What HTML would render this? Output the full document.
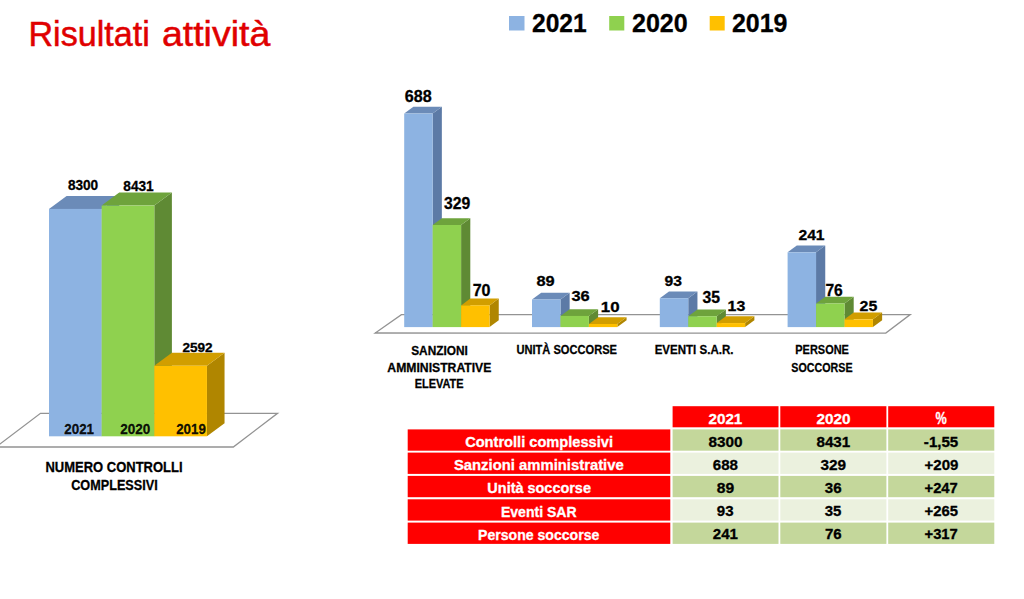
<!DOCTYPE html>
<html><head><meta charset="utf-8"><style>
html,body{margin:0;padding:0;background:#fff;width:1024px;height:599px;overflow:hidden}
svg{display:block}
text{font-family:"Liberation Sans",sans-serif;}
</style></head><body>
<svg width="1024" height="599" viewBox="0 0 1024 599">
<rect width="1024" height="599" fill="#fff"/>
<text x="28.45" y="45.80" font-size="35.07" font-weight="400" fill="#e00000" textLength="121.30" lengthAdjust="spacingAndGlyphs" stroke="#e00000" stroke-width="0.5">Risultati</text>
<text x="161.96" y="45.80" font-size="35.07" font-weight="400" fill="#e00000" textLength="108.29" lengthAdjust="spacingAndGlyphs" stroke="#e00000" stroke-width="0.5">attività</text>
<rect x="509.0" y="16.0" width="15.5" height="14.5" fill="#8db3e2"/>
<text x="532.00" y="31.60" font-size="25.52" font-weight="700" fill="#000" textLength="54.74" lengthAdjust="spacingAndGlyphs" stroke="#000" stroke-width="0.3">2021</text>
<rect x="609.2" y="16.0" width="15.1" height="14.5" fill="#8fd14f"/>
<text x="631.98" y="31.60" font-size="25.52" font-weight="700" fill="#000" textLength="55.69" lengthAdjust="spacingAndGlyphs" stroke="#000" stroke-width="0.3">2020</text>
<rect x="709.7" y="16.0" width="15.0" height="14.5" fill="#ffc000"/>
<text x="731.99" y="31.60" font-size="25.52" font-weight="700" fill="#000" textLength="55.49" lengthAdjust="spacingAndGlyphs" stroke="#000" stroke-width="0.3">2019</text>
<polygon points="40.5,413.3 277.5,413.3 233.3,447.0 -4,447.0" fill="#fff" stroke="#939393" stroke-width="1.3"/>
<polygon points="101.65,208.90 119.25,195.90 119.25,423.30 101.65,436.30" fill="#5c7aa6"/>
<polygon points="49.00,208.90 66.60,195.90 119.25,195.90 101.65,208.90" fill="#6b8bb8"/>
<rect x="49.00" y="208.90" width="52.65" height="227.40" fill="#8db3e2"/>
<polygon points="154.30,205.60 171.90,192.60 171.90,423.30 154.30,436.30" fill="#5f8a34"/>
<polygon points="101.65,205.60 119.25,192.60 171.90,192.60 154.30,205.60" fill="#6ea33c"/>
<rect x="101.65" y="205.60" width="52.65" height="230.70" fill="#8fd14f"/>
<polygon points="206.95,365.80 224.55,352.80 224.55,423.30 206.95,436.30" fill="#b08600"/>
<polygon points="154.30,365.80 171.90,352.80 224.55,352.80 206.95,365.80" fill="#d19e00"/>
<rect x="154.30" y="365.80" width="52.65" height="70.50" fill="#ffc000"/>
<text x="67.92" y="189.80" font-size="13.88" font-weight="700" fill="#000" textLength="30.29" lengthAdjust="spacingAndGlyphs" stroke="#000" stroke-width="0.3">8300</text>
<text x="123.32" y="191.40" font-size="14.33" font-weight="700" fill="#000" textLength="30.41" lengthAdjust="spacingAndGlyphs" stroke="#000" stroke-width="0.3">8431</text>
<text x="182.48" y="351.70" font-size="13.28" font-weight="700" fill="#000" textLength="30.21" lengthAdjust="spacingAndGlyphs" stroke="#000" stroke-width="0.3">2592</text>
<text x="64.29" y="434.30" font-size="14.78" font-weight="700" fill="rgba(0,0,0,0.93)" textLength="29.74" lengthAdjust="spacingAndGlyphs" stroke="rgba(0,0,0,0.93)" stroke-width="0.3">2021</text>
<text x="120.18" y="434.30" font-size="14.78" font-weight="700" fill="rgba(0,0,0,0.93)" textLength="30.02" lengthAdjust="spacingAndGlyphs" stroke="rgba(0,0,0,0.93)" stroke-width="0.3">2020</text>
<text x="176.19" y="434.30" font-size="14.78" font-weight="700" fill="rgba(0,0,0,0.93)" textLength="29.66" lengthAdjust="spacingAndGlyphs" stroke="rgba(0,0,0,0.93)" stroke-width="0.3">2019</text>
<text x="45.48" y="472.10" font-size="14.78" font-weight="700" fill="#000" textLength="137.04" lengthAdjust="spacingAndGlyphs" stroke="#000" stroke-width="0.3">NUMERO CONTROLLI</text>
<text x="71.23" y="490.40" font-size="15.52" font-weight="700" fill="#000" textLength="86.47" lengthAdjust="spacingAndGlyphs" stroke="#000" stroke-width="0.3">COMPLESSIVI</text>
<polygon points="401.4,314.6 910.2,314.6 885.8,333.1 375.2,333.0" fill="#fff" stroke="#939393" stroke-width="1.3"/>
<polygon points="432.65,113.61 441.85,106.81 441.85,320.30 432.65,327.10" fill="#5c7aa6"/>
<polygon points="404.20,113.61 413.40,106.81 441.85,106.81 432.65,113.61" fill="#6b8bb8"/>
<rect x="404.20" y="113.61" width="28.45" height="213.49" fill="#8db3e2"/>
<polygon points="461.10,225.01 470.30,218.21 470.30,320.30 461.10,327.10" fill="#5f8a34"/>
<polygon points="432.65,225.01 441.85,218.21 470.30,218.21 461.10,225.01" fill="#6ea33c"/>
<rect x="432.65" y="225.01" width="28.45" height="102.09" fill="#8fd14f"/>
<polygon points="489.55,305.38 498.75,298.58 498.75,320.30 489.55,327.10" fill="#b08600"/>
<polygon points="461.10,305.38 470.30,298.58 498.75,298.58 489.55,305.38" fill="#d19e00"/>
<rect x="461.10" y="305.38" width="28.45" height="21.72" fill="#ffc000"/>
<polygon points="560.45,299.48 569.65,292.68 569.65,320.30 560.45,327.10" fill="#5c7aa6"/>
<polygon points="532.00,299.48 541.20,292.68 569.65,292.68 560.45,299.48" fill="#6b8bb8"/>
<rect x="532.00" y="299.48" width="28.45" height="27.62" fill="#8db3e2"/>
<polygon points="588.90,315.93 598.10,309.13 598.10,320.30 588.90,327.10" fill="#5f8a34"/>
<polygon points="560.45,315.93 569.65,309.13 598.10,309.13 588.90,315.93" fill="#6ea33c"/>
<rect x="560.45" y="315.93" width="28.45" height="11.17" fill="#8fd14f"/>
<polygon points="617.35,324.00 626.55,317.20 626.55,320.30 617.35,327.10" fill="#b08600"/>
<polygon points="588.90,324.00 598.10,317.20 626.55,317.20 617.35,324.00" fill="#d19e00"/>
<rect x="588.90" y="324.00" width="28.45" height="3.10" fill="#ffc000"/>
<polygon points="688.25,298.24 697.45,291.44 697.45,320.30 688.25,327.10" fill="#5c7aa6"/>
<polygon points="659.80,298.24 669.00,291.44 697.45,291.44 688.25,298.24" fill="#6b8bb8"/>
<rect x="659.80" y="298.24" width="28.45" height="28.86" fill="#8db3e2"/>
<polygon points="716.70,316.24 725.90,309.44 725.90,320.30 716.70,327.10" fill="#5f8a34"/>
<polygon points="688.25,316.24 697.45,309.44 725.90,309.44 716.70,316.24" fill="#6ea33c"/>
<rect x="688.25" y="316.24" width="28.45" height="10.86" fill="#8fd14f"/>
<polygon points="745.15,323.07 754.35,316.27 754.35,320.30 745.15,327.10" fill="#b08600"/>
<polygon points="716.70,323.07 725.90,316.27 754.35,316.27 745.15,323.07" fill="#d19e00"/>
<rect x="716.70" y="323.07" width="28.45" height="4.03" fill="#ffc000"/>
<polygon points="816.05,252.32 825.25,245.52 825.25,320.30 816.05,327.10" fill="#5c7aa6"/>
<polygon points="787.60,252.32 796.80,245.52 825.25,245.52 816.05,252.32" fill="#6b8bb8"/>
<rect x="787.60" y="252.32" width="28.45" height="74.78" fill="#8db3e2"/>
<polygon points="844.50,303.52 853.70,296.72 853.70,320.30 844.50,327.10" fill="#5f8a34"/>
<polygon points="816.05,303.52 825.25,296.72 853.70,296.72 844.50,303.52" fill="#6ea33c"/>
<rect x="816.05" y="303.52" width="28.45" height="23.58" fill="#8fd14f"/>
<polygon points="872.95,319.34 882.15,312.54 882.15,320.30 872.95,327.10" fill="#b08600"/>
<polygon points="844.50,319.34 853.70,312.54 882.15,312.54 872.95,319.34" fill="#d19e00"/>
<rect x="844.50" y="319.34" width="28.45" height="7.76" fill="#ffc000"/>
<text x="404.76" y="101.80" font-size="16.42" font-weight="700" fill="#000" textLength="26.89" lengthAdjust="spacingAndGlyphs" stroke="#000" stroke-width="0.3">688</text>
<text x="443.99" y="209.20" font-size="15.97" font-weight="700" fill="#000" textLength="26.24" lengthAdjust="spacingAndGlyphs" stroke="#000" stroke-width="0.3">329</text>
<text x="472.66" y="295.70" font-size="15.97" font-weight="700" fill="#000" textLength="17.85" lengthAdjust="spacingAndGlyphs" stroke="#000" stroke-width="0.3">70</text>
<text x="536.53" y="286.00" font-size="14.93" font-weight="700" fill="#000" textLength="18.23" lengthAdjust="spacingAndGlyphs" stroke="#000" stroke-width="0.3">89</text>
<text x="571.47" y="301.40" font-size="15.52" font-weight="700" fill="#000" textLength="18.27" lengthAdjust="spacingAndGlyphs" stroke="#000" stroke-width="0.3">36</text>
<text x="600.79" y="311.50" font-size="15.07" font-weight="700" fill="#000" textLength="18.75" lengthAdjust="spacingAndGlyphs" stroke="#000" stroke-width="0.3">10</text>
<text x="664.51" y="285.70" font-size="14.78" font-weight="700" fill="#000" textLength="17.41" lengthAdjust="spacingAndGlyphs" stroke="#000" stroke-width="0.3">93</text>
<text x="702.59" y="302.50" font-size="15.67" font-weight="700" fill="#000" textLength="17.50" lengthAdjust="spacingAndGlyphs" stroke="#000" stroke-width="0.3">35</text>
<text x="727.55" y="310.80" font-size="14.93" font-weight="700" fill="#000" textLength="17.68" lengthAdjust="spacingAndGlyphs" stroke="#000" stroke-width="0.3">13</text>
<text x="798.41" y="240.40" font-size="15.52" font-weight="700" fill="#000" textLength="26.18" lengthAdjust="spacingAndGlyphs" stroke="#000" stroke-width="0.3">241</text>
<text x="825.38" y="296.20" font-size="16.57" font-weight="700" fill="#000" textLength="17.33" lengthAdjust="spacingAndGlyphs" stroke="#000" stroke-width="0.3">76</text>
<text x="859.60" y="310.60" font-size="15.52" font-weight="700" fill="#000" textLength="17.69" lengthAdjust="spacingAndGlyphs" stroke="#000" stroke-width="0.3">25</text>
<text x="411.21" y="354.50" font-size="13.13" font-weight="700" fill="#000" textLength="56.63" lengthAdjust="spacingAndGlyphs" stroke="#000" stroke-width="0.3">SANZIONI</text>
<text x="387.35" y="371.60" font-size="13.28" font-weight="700" fill="#000" textLength="104.02" lengthAdjust="spacingAndGlyphs" stroke="#000" stroke-width="0.3">AMMINISTRATIVE</text>
<text x="414.64" y="388.00" font-size="12.69" font-weight="700" fill="#000" textLength="48.92" lengthAdjust="spacingAndGlyphs" stroke="#000" stroke-width="0.3">ELEVATE</text>
<text x="516.38" y="354.40" font-size="13.28" font-weight="700" fill="#000" textLength="100.60" lengthAdjust="spacingAndGlyphs" stroke="#000" stroke-width="0.3">UNITÀ SOCCORSE</text>
<text x="654.68" y="354.40" font-size="13.28" font-weight="700" fill="#000" textLength="78.76" lengthAdjust="spacingAndGlyphs" stroke="#000" stroke-width="0.3">EVENTI S.A.R.</text>
<text x="795.32" y="354.40" font-size="13.28" font-weight="700" fill="#000" textLength="53.56" lengthAdjust="spacingAndGlyphs" stroke="#000" stroke-width="0.3">PERSONE</text>
<text x="791.34" y="371.60" font-size="13.43" font-weight="700" fill="#000" textLength="61.23" lengthAdjust="spacingAndGlyphs" stroke="#000" stroke-width="0.3">SOCCORSE</text>
<rect x="672.6" y="406.2" width="105.90" height="21.10" fill="#ff0000"/>
<rect x="780.3" y="406.2" width="106.10" height="21.10" fill="#ff0000"/>
<rect x="888.2" y="406.2" width="106.10" height="21.10" fill="#ff0000"/>
<rect x="407.7" y="429.4" width="262.60" height="21.3" fill="#ff0000"/>
<rect x="672.6" y="429.4" width="105.90" height="21.3" fill="#c4d79b"/>
<rect x="780.3" y="429.4" width="106.10" height="21.3" fill="#c4d79b"/>
<rect x="888.2" y="429.4" width="106.10" height="21.3" fill="#c4d79b"/>
<rect x="407.7" y="452.6" width="262.60" height="21.3" fill="#ff0000"/>
<rect x="672.6" y="452.6" width="105.90" height="21.3" fill="#ebf1de"/>
<rect x="780.3" y="452.6" width="106.10" height="21.3" fill="#ebf1de"/>
<rect x="888.2" y="452.6" width="106.10" height="21.3" fill="#ebf1de"/>
<rect x="407.7" y="475.9" width="262.60" height="21.3" fill="#ff0000"/>
<rect x="672.6" y="475.9" width="105.90" height="21.3" fill="#c4d79b"/>
<rect x="780.3" y="475.9" width="106.10" height="21.3" fill="#c4d79b"/>
<rect x="888.2" y="475.9" width="106.10" height="21.3" fill="#c4d79b"/>
<rect x="407.7" y="499.3" width="262.60" height="21.3" fill="#ff0000"/>
<rect x="672.6" y="499.3" width="105.90" height="21.3" fill="#ebf1de"/>
<rect x="780.3" y="499.3" width="106.10" height="21.3" fill="#ebf1de"/>
<rect x="888.2" y="499.3" width="106.10" height="21.3" fill="#ebf1de"/>
<rect x="407.7" y="522.6" width="262.60" height="21.3" fill="#ff0000"/>
<rect x="672.6" y="522.6" width="105.90" height="21.3" fill="#c4d79b"/>
<rect x="780.3" y="522.6" width="106.10" height="21.3" fill="#c4d79b"/>
<rect x="888.2" y="522.6" width="106.10" height="21.3" fill="#c4d79b"/>
<text x="708.42" y="424.40" font-size="15.37" font-weight="700" fill="#fff" textLength="33.95" lengthAdjust="spacingAndGlyphs" stroke="#fff" stroke-width="0.3">2021</text>
<text x="816.42" y="424.40" font-size="15.37" font-weight="700" fill="#fff" textLength="34.06" lengthAdjust="spacingAndGlyphs" stroke="#fff" stroke-width="0.3">2020</text>
<text x="935.53" y="424.30" font-size="15.57" font-weight="700" fill="#fff" textLength="11.25" lengthAdjust="spacingAndGlyphs" stroke="#fff" stroke-width="0.3">%</text>
<text x="465.15" y="446.90" font-size="14.29" font-weight="700" fill="#fff" textLength="147.83" lengthAdjust="spacingAndGlyphs" stroke="#fff" stroke-width="0.3">Controlli complessivi</text>
<text x="453.92" y="469.50" font-size="14.14" font-weight="700" fill="#fff" textLength="169.83" lengthAdjust="spacingAndGlyphs" stroke="#fff" stroke-width="0.3">Sanzioni amministrative</text>
<text x="487.38" y="493.40" font-size="14.43" font-weight="700" fill="#fff" textLength="103.56" lengthAdjust="spacingAndGlyphs" stroke="#fff" stroke-width="0.3">Unità soccorse</text>
<text x="500.91" y="516.90" font-size="14.14" font-weight="700" fill="#fff" textLength="75.73" lengthAdjust="spacingAndGlyphs" stroke="#fff" stroke-width="0.3">Eventi SAR</text>
<text x="478.11" y="539.90" font-size="14.14" font-weight="700" fill="#fff" textLength="121.22" lengthAdjust="spacingAndGlyphs" stroke="#fff" stroke-width="0.3">Persone soccorse</text>
<text x="708.46" y="447.20" font-size="15.07" font-weight="700" fill="#000" textLength="34.12" lengthAdjust="spacingAndGlyphs" stroke="#000" stroke-width="0.3">8300</text>
<text x="816.47" y="447.20" font-size="15.07" font-weight="700" fill="#000" textLength="33.81" lengthAdjust="spacingAndGlyphs" stroke="#000" stroke-width="0.3">8431</text>
<text x="923.86" y="447.00" font-size="14.63" font-weight="700" fill="#000" textLength="34.41" lengthAdjust="spacingAndGlyphs" stroke="#000" stroke-width="0.3">-1,55</text>
<text x="712.80" y="469.80" font-size="15.22" font-weight="700" fill="#000" textLength="25.22" lengthAdjust="spacingAndGlyphs" stroke="#000" stroke-width="0.3">688</text>
<text x="820.50" y="469.80" font-size="15.22" font-weight="700" fill="#000" textLength="25.62" lengthAdjust="spacingAndGlyphs" stroke="#000" stroke-width="0.3">329</text>
<text x="924.52" y="469.60" font-size="14.93" font-weight="700" fill="#000" textLength="33.89" lengthAdjust="spacingAndGlyphs" stroke="#000" stroke-width="0.3">+209</text>
<text x="716.85" y="493.10" font-size="14.93" font-weight="700" fill="#000" textLength="17.38" lengthAdjust="spacingAndGlyphs" stroke="#000" stroke-width="0.3">89</text>
<text x="824.80" y="493.10" font-size="14.93" font-weight="700" fill="#000" textLength="16.79" lengthAdjust="spacingAndGlyphs" stroke="#000" stroke-width="0.3">36</text>
<text x="924.53" y="493.10" font-size="14.93" font-weight="700" fill="#000" textLength="33.27" lengthAdjust="spacingAndGlyphs" stroke="#000" stroke-width="0.3">+247</text>
<text x="716.83" y="516.20" font-size="14.93" font-weight="700" fill="#000" textLength="16.77" lengthAdjust="spacingAndGlyphs" stroke="#000" stroke-width="0.3">93</text>
<text x="824.81" y="516.20" font-size="14.93" font-weight="700" fill="#000" textLength="16.66" lengthAdjust="spacingAndGlyphs" stroke="#000" stroke-width="0.3">35</text>
<text x="924.53" y="516.20" font-size="14.93" font-weight="700" fill="#000" textLength="33.44" lengthAdjust="spacingAndGlyphs" stroke="#000" stroke-width="0.3">+265</text>
<text x="712.83" y="539.40" font-size="15.22" font-weight="700" fill="#000" textLength="25.14" lengthAdjust="spacingAndGlyphs" stroke="#000" stroke-width="0.3">241</text>
<text x="824.91" y="539.40" font-size="15.22" font-weight="700" fill="#000" textLength="16.69" lengthAdjust="spacingAndGlyphs" stroke="#000" stroke-width="0.3">76</text>
<text x="924.53" y="539.40" font-size="15.22" font-weight="700" fill="#000" textLength="33.27" lengthAdjust="spacingAndGlyphs" stroke="#000" stroke-width="0.3">+317</text>
</svg>
</body></html>
